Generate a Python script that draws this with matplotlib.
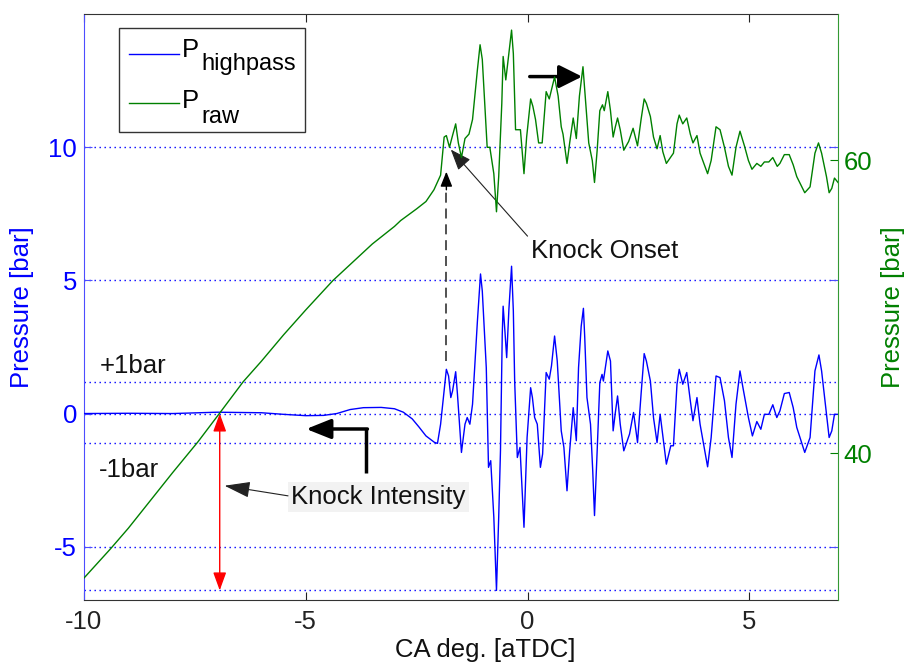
import matplotlib
matplotlib.use("Agg")
import matplotlib.pyplot as plt
from matplotlib.lines import Line2D
from matplotlib.patches import Rectangle

plt.rcParams['font.family'] = ['Liberation Sans', 'DejaVu Sans']
plt.rcParams['font.size'] = 18.5
plt.rcParams['axes.unicode_minus'] = False

# high-pass filtered pressure [bar], left axis
ca_hp = [-10.0, -9.0, -8.0, -7.0, -6.0, -5.5, -5.0, -4.6, -4.3, -4.0,
         -3.7, -3.3, -3.0, -2.8, -2.6, -2.45, -2.29, -2.1, -2.03, -1.96,
         -1.83, -1.78, -1.73, -1.69, -1.62, -1.58, -1.49, -1.41, -1.36, -1.30,
         -1.24, -1.13, -1.06, -1.02, -0.93, -0.88, -0.83, -0.76, -0.70, -0.65,
         -0.61, -0.57, -0.55, -0.51, -0.47, -0.42, -0.36, -0.32, -0.29, -0.23,
         -0.17, -0.08, -0.01, 0.07, 0.11, 0.16, 0.22, 0.29, 0.34, 0.42,
         0.49, 0.54, 0.61, 0.67, 0.76, 0.82, 0.89, 0.95, 1.03, 1.10,
         1.15, 1.21, 1.26, 1.29, 1.34, 1.42, 1.47, 1.51, 1.57, 1.63,
         1.68, 1.71, 1.81, 1.87, 1.93, 1.98, 2.03, 2.09, 2.17, 2.30,
         2.39, 2.48, 2.56, 2.63, 2.68, 2.77, 2.84, 2.92, 2.99, 3.05,
         3.13, 3.23, 3.29, 3.37, 3.42, 3.50, 3.59, 3.67, 3.73, 3.82,
         3.89, 4.06, 4.14, 4.25, 4.34, 4.44, 4.53, 4.61, 4.70, 4.79,
         4.87, 4.98, 5.07, 5.17, 5.26, 5.34, 5.44, 5.53, 5.62, 5.69,
         5.79, 5.90, 5.99, 6.07, 6.25, 6.37, 6.48, 6.57, 6.63, 6.74,
         6.80, 6.86, 6.92, 7.0]
p_highpass = [0.0, 0.01, 0.0, 0.05, 0.03, -0.03, -0.08, -0.07, 0.0, 0.15,
              0.22, 0.23, 0.18, 0.05, -0.2, -0.5, -0.84, -1.08, -1.12, -0.40,
              1.66, 1.41, 0.60, 0.85, 1.57, 0.73, -1.46, -0.40, -0.15, -0.40,
              0.35, 3.47, 5.24, 4.60, 1.72, -2.02, -1.77, -3.89, -6.64, -3.89,
              -1.40, 2.97, 4.03, 3.10, 2.10, 3.91, 5.53, 3.85, 1.22, -1.65,
              -1.27, -4.27, -0.90, 0.97, 0.60, -0.15, -0.40, -2.02, -1.52, 1.54,
              1.29, 1.79, 2.91, 1.97, -0.65, -1.27, -2.90, -1.40, 0.22, -1.02,
              1.72, 3.28, 3.95, 2.85, 0.60, -0.40, -2.15, -3.83, -1.40, 1.16,
              1.47, 1.22, 2.35, 1.97, -0.65, 0.04, 0.66, -0.40, -1.40, -0.77,
              0.04, -1.09, 0.73, 2.25, 1.97, 1.22, -0.15, -1.09, -0.03, -0.84,
              -1.90, -1.21, -1.21, 1.10, 1.66, 1.10, 1.54, 0.48, -0.27, 0.60,
              -0.40, -2.00, -0.90, 1.41, 1.35, 0.48, -0.90, -1.65, 0.35, 1.60,
              0.85, -0.15, -0.84, -0.30, -0.59, -0.03, -0.03, 0.33, -0.15, 0.10,
              0.75, 0.79, 0.22, -0.52, -1.46, -0.90, 1.60, 2.20, 1.60, -0.03,
              -0.90, -0.65, -0.03, -0.03]

# raw cylinder pressure [bar], right axis
ca_raw = [-10.0, -9.4, -9.0, -8.5, -8.0, -7.43, -6.98, -6.41, -6.0, -5.5,
          -5.0, -4.39, -4.0, -3.5, -3.0, -2.86, -2.5, -2.29, -2.11, -1.96,
          -1.88, -1.83, -1.76, -1.70, -1.62, -1.56,
          -1.49, -1.41, -1.32, -1.24, -1.13, -1.07, -1.02, -0.91, -0.85, -0.76,
          -0.70, -0.65, -0.58, -0.55, -0.49, -0.42, -0.36, -0.32, -0.27, -0.16,
          -0.08, -0.02, 0.07, 0.12, 0.18, 0.25, 0.33, 0.42, 0.49, 0.61,
          0.69, 0.76, 0.80, 0.89, 0.95, 1.03, 1.10, 1.17, 1.25, 1.30,
          1.38, 1.46, 1.51, 1.57, 1.63, 1.69, 1.73, 1.81, 1.87, 1.93,
          1.98, 2.03, 2.09, 2.17, 2.28, 2.38, 2.48, 2.56, 2.63, 2.68,
          2.77, 2.84, 2.92, 2.99, 3.05, 3.13, 3.22, 3.29, 3.37, 3.42,
          3.50, 3.59, 3.67, 3.73, 3.82, 3.89, 4.06, 4.14, 4.25, 4.34,
          4.44, 4.53, 4.61, 4.70, 4.79, 4.89, 4.98, 5.06, 5.17, 5.26,
          5.34, 5.44, 5.53, 5.63, 5.69, 5.79, 5.90, 5.99, 6.07, 6.25,
          6.37, 6.48, 6.56, 6.63, 6.74, 6.80, 6.86, 6.92, 7.0]
p_raw = [31.5, 33.5, 34.9, 36.8, 38.7, 40.8, 42.6, 44.9, 46.3, 48.1,
         49.8, 51.8, 52.9, 54.3, 55.5, 55.9, 56.7, 57.2, 58.0, 59.0,
         61.6, 61.7, 60.9, 61.6, 62.5, 61.2,
         60.2, 61.5, 61.8, 62.8, 66.2, 67.9, 66.9, 60.9, 60.9, 59.1,
         56.5, 58.9, 63.9, 67.1, 65.5, 67.3, 68.9, 67.3, 62.1, 62.1,
         59.1, 61.6, 64.2, 63.7, 62.8, 61.2, 61.2, 64.7, 64.2, 65.7,
         64.4, 62.3, 61.8, 59.8, 61.2, 62.9, 61.5, 64.4, 66.4, 64.4,
         61.2, 60.0, 58.5, 60.7, 63.4, 63.8, 63.4, 64.7, 63.4, 61.6,
         62.3, 62.9, 62.1, 60.7, 61.3, 62.2, 61.0, 62.8, 64.2, 63.9,
         63.0, 61.6, 60.8, 61.7, 60.6, 59.8, 60.2, 60.5, 62.5, 63.1,
         62.5, 62.9, 61.8, 61.2, 61.7, 60.5, 59.1, 60.0, 62.3, 62.1,
         60.9, 59.6, 59.0, 60.9, 62.0, 61.0, 60.0, 59.4, 59.8, 59.6,
         59.9, 59.9, 60.2, 59.6, 59.8, 60.4, 60.4, 59.7, 58.9, 57.8,
         58.2, 60.5, 61.2, 60.5, 58.9, 57.8, 58.1, 58.8, 58.5]

xticks = [-10, -5, 0, 5]
yticks_left = [-5, 0, 5, 10]
yticks_right = [40, 60]
band_levels = [1.2, -1.1]      # +1bar / -1bar lines
onset_ca = -1.83               # knock onset
intensity_ca = -6.94           # where knock intensity arrow is drawn

blue = '#0000ff'
green = '#008000'
dots = (0, (1, 2.6))

fig = plt.figure(figsize=(9.09, 6.66), dpi=100)
ax = fig.add_axes([0.0924, 0.0991, 0.9219 - 0.0924, 0.979 - 0.0991])
ax2 = ax.twinx()

ax.plot(ca_hp, p_highpass, color=blue, lw=1.0, zorder=3)
ax2.plot(ca_raw, p_raw, color=green, lw=1.0)

p_min = min(p_highpass)
for lev in band_levels + [p_min]:
    ax.axhline(lev, color=blue, lw=1.0, linestyle=dots, zorder=1)

ax.set_xlim(-10, 7)
ax.set_ylim(-7, 15)
ax2.set_ylim(30, 70)
ax.set_xticks(xticks)
ax.set_yticks(yticks_left)
ax2.set_yticks(yticks_right)
ax.yaxis.grid(True, color=blue, lw=1.0, linestyle=dots)
ax.set_axisbelow(True)

ax.tick_params(axis='x', direction='in', length=6, width=0.8, top=True,
               colors='#222222', pad=7)
ax.tick_params(axis='y', direction='in', length=6, width=0.8, right=True,
               colors=blue, pad=5)
ax.tick_params(axis='y', which='both', color='#4d4dff')
ax2.tick_params(axis='y', direction='in', length=6, width=0.8,
                colors=green, pad=4)
for sp in ['top', 'bottom']:
    ax.spines[sp].set_color('#333333')
    ax2.spines[sp].set_visible(False)
ax.spines['left'].set_color('#4d4dff')
ax.spines['right'].set_visible(False)
ax2.spines['left'].set_visible(False)
ax2.spines['right'].set_color('#339933')

ax.set_xlabel('CA deg. [aTDC]', color='#111111')
ax.xaxis.label.set_va('center')
ax.xaxis.set_label_coords(0.532, -0.086)
ax.set_ylabel('Pressure [bar]', color=blue)
ax.yaxis.label.set_va('center')
ax.yaxis.set_label_coords(-0.082, 0.5)
ax2.set_ylabel('Pressure [bar]', color=green)
ax2.yaxis.label.set_va('center')
ax2.yaxis.set_label_coords(1.073, 0.5)

# annotations
ax.text(-9.65, 1.79, '+1bar', ha='left', va='center', color='#111111')
ax.text(-9.67, -2.11, '-1bar', ha='left', va='center', color='#111111')

ax.annotate('', xy=(intensity_ca, p_min), xytext=(intensity_ca, 0),
            arrowprops=dict(arrowstyle='<|-|>,head_length=0.55,head_width=0.2',
                            color='red', lw=1.0, mutation_scale=20,
                            shrinkA=0, shrinkB=0), zorder=4)

ax.plot([onset_ca, onset_ca], [1.97, 8.5], color='#333333', lw=1.2,
        dashes=(6, 3.5), zorder=4)
ax.annotate('', xy=(onset_ca, 9.08), xytext=(onset_ca, 8.4),
            arrowprops=dict(arrowstyle='-|>,head_length=0.5,head_width=0.2',
                            color='black', lw=1.0, mutation_scale=18,
                            shrinkA=0, shrinkB=0), zorder=4)

ax.text(0.07, 6.09, 'Knock Onset', ha='left', va='center', color='#111111')
ax.annotate('', xy=(-1.73, 9.91), xytext=(0.0, 6.66),
            arrowprops=dict(arrowstyle='-|>,head_length=0.65,head_width=0.25',
                            color='#222222', lw=0.8, mutation_scale=20,
                            shrinkA=0, shrinkB=0), zorder=4)

ax.text(-5.33, -3.12, 'Knock Intensity', ha='left', va='center',
        color='#111111',
        bbox=dict(boxstyle='square,pad=0.12', facecolor='#f2f2f2',
                  edgecolor='none'))
ax.annotate('', xy=(-6.83, -2.71), xytext=(-5.40, -3.09),
            arrowprops=dict(arrowstyle='-|>,head_length=0.8,head_width=0.25',
                            color='#222222', lw=0.8, mutation_scale=20,
                            shrinkA=0, shrinkB=0), zorder=4)

ax.plot([-3.64, -3.64], [-2.22, -0.58], color='black', lw=2.5,
        solid_capstyle='butt', zorder=4)
ax.annotate('', xy=(-4.99, -0.58), xytext=(-3.64 + 0.03, -0.58),
            arrowprops=dict(arrowstyle='-|>,head_length=0.75,head_width=0.3',
                            color='black', lw=2.5, mutation_scale=20,
                            shrinkA=0, shrinkB=0), zorder=4)

ax.annotate('', xy=(1.23, 12.65), xytext=(0.05, 12.65),
            arrowprops=dict(arrowstyle='-|>,head_length=0.7,head_width=0.35',
                            color='black', lw=2.5, mutation_scale=20,
                            shrinkA=0, shrinkB=0), zorder=4)

# legend, MATLAB style (subscripts kept near full size)
ax2.add_patch(Rectangle((0.0464, 0.7986), 0.2467, 0.1775,
                        transform=ax2.transAxes, facecolor='white',
                        edgecolor='#333333', lw=1.0, zorder=10))
ax2.add_line(Line2D([0.0597, 0.1260], [0.9312, 0.9312], color=blue, lw=1.0,
                    transform=ax2.transAxes, zorder=11))
ax2.add_line(Line2D([0.0597, 0.1260], [0.8476, 0.8476], color=green, lw=1.0,
                    transform=ax2.transAxes, zorder=11))
ax2.text(0.1300, 0.9261, 'P', transform=ax2.transAxes, ha='left',
         va='baseline', fontsize=18.5, zorder=12)
ax2.text(0.1552, 0.9036, 'highpass', transform=ax2.transAxes, ha='left',
         va='baseline', fontsize=17, zorder=12)
ax2.text(0.1300, 0.8391, 'P', transform=ax2.transAxes, ha='left',
         va='baseline', fontsize=18.5, zorder=12)
ax2.text(0.1552, 0.8145, 'raw', transform=ax2.transAxes, ha='left',
         va='baseline', fontsize=17, zorder=12)

fig.savefig('out.png', dpi=100)
